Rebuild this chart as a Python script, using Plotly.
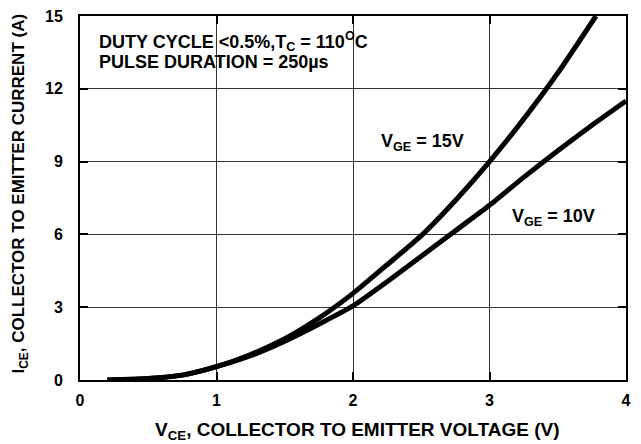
import plotly.graph_objects as go

x15 = [0.2, 0.5, 0.75, 1.0, 1.25, 1.5, 1.75, 2.0, 2.25, 2.5, 2.75, 3.0, 3.25, 3.5, 3.78]
y15 = [0.0, 0.06, 0.2, 0.55, 1.05, 1.7, 2.55, 3.57, 4.75, 5.95, 7.4, 9.0, 10.75, 12.65, 15.0]
x10 = [0.2, 0.5, 0.75, 1.0, 1.25, 1.5, 1.75, 2.0, 2.25, 2.5, 2.75, 3.0, 3.25, 3.5, 3.75, 4.0]
y10 = [0.0, 0.06, 0.2, 0.55, 1.0, 1.6, 2.3, 3.05, 4.05, 5.1, 6.15, 7.2, 8.35, 9.45, 10.5, 11.5]
xticks = [0, 1, 2, 3, 4]
yticks = [0, 3, 6, 9, 12, 15]

FONT = "Liberation Sans, Arial, sans-serif"

fig = go.Figure()
for xs, ys in [(x15, y15), (x10, y10)]:
    fig.add_trace(go.Scatter(x=xs, y=ys, mode="lines",
                             line=dict(color="black", width=5, shape="spline", smoothing=0.6),
                             showlegend=False, hoverinfo="skip"))

axis_common = dict(showgrid=True, gridcolor="#333333", gridwidth=1, showline=True, linecolor="black", linewidth=2,
                   mirror="ticks", ticks="inside", ticklen=8, tickwidth=2, tickcolor="black", zeroline=False,
                   automargin=False, ticklabeloverflow="allow",
                   tickfont=dict(family=FONT, size=16, color="black", weight="bold"))

fig.update_xaxes(range=[0, 4], tickvals=xticks, ticktext=[str(v) for v in xticks], ticklabelstandoff=5, **axis_common)
fig.update_yaxes(range=[0, 15], tickvals=yticks, ticktext=[str(v) for v in yticks], ticklabelstandoff=12, **axis_common)

ann_font = dict(family=FONT, size=18, color="black", weight="bold")
fig.add_annotation(x=0.128, y=13.95, xref="x", yref="y", xanchor="left", yanchor="middle", showarrow=False,
                   text="DUTY CYCLE <0.5%,T<sub>C</sub> = 110<sup>O</sup>C", font=ann_font)
fig.add_annotation(x=0.128, y=13.1, xref="x", yref="y", xanchor="left", yanchor="middle", showarrow=False,
                   text="PULSE DURATION = 250µs", font=ann_font)
fig.add_annotation(x=2.51, y=9.8, xref="x", yref="y", showarrow=False, text="V<sub>GE</sub> = 15V", font=ann_font)
fig.add_annotation(x=3.47, y=6.7, xref="x", yref="y", showarrow=False, text="V<sub>GE</sub> = 10V", font=ann_font)

fig.add_annotation(x=0.508, y=-0.14, xref="paper", yref="paper", yanchor="middle", showarrow=False,
                   text="V<sub>CE</sub>, COLLECTOR TO EMITTER VOLTAGE (V)",
                   font=dict(family=FONT, size=19, color="black", weight="bold"))
fig.add_annotation(x=-0.11, y=0.512, xref="paper", yref="paper", xanchor="center", yanchor="middle",
                   showarrow=False, textangle=-90,
                   text="I<sub>CE</sub>, COLLECTOR TO EMITTER CURRENT (A)",
                   font=dict(family=FONT, size=17, color="black", weight="bold"))

# page body has an 8px default margin; figure is sized/offset to compensate
fig.update_layout(width=633, height=436, margin=dict(l=72, r=15, t=8, b=63.5, autoexpand=False),
                  plot_bgcolor="white", paper_bgcolor="white")
fig.write_html("out.html")
